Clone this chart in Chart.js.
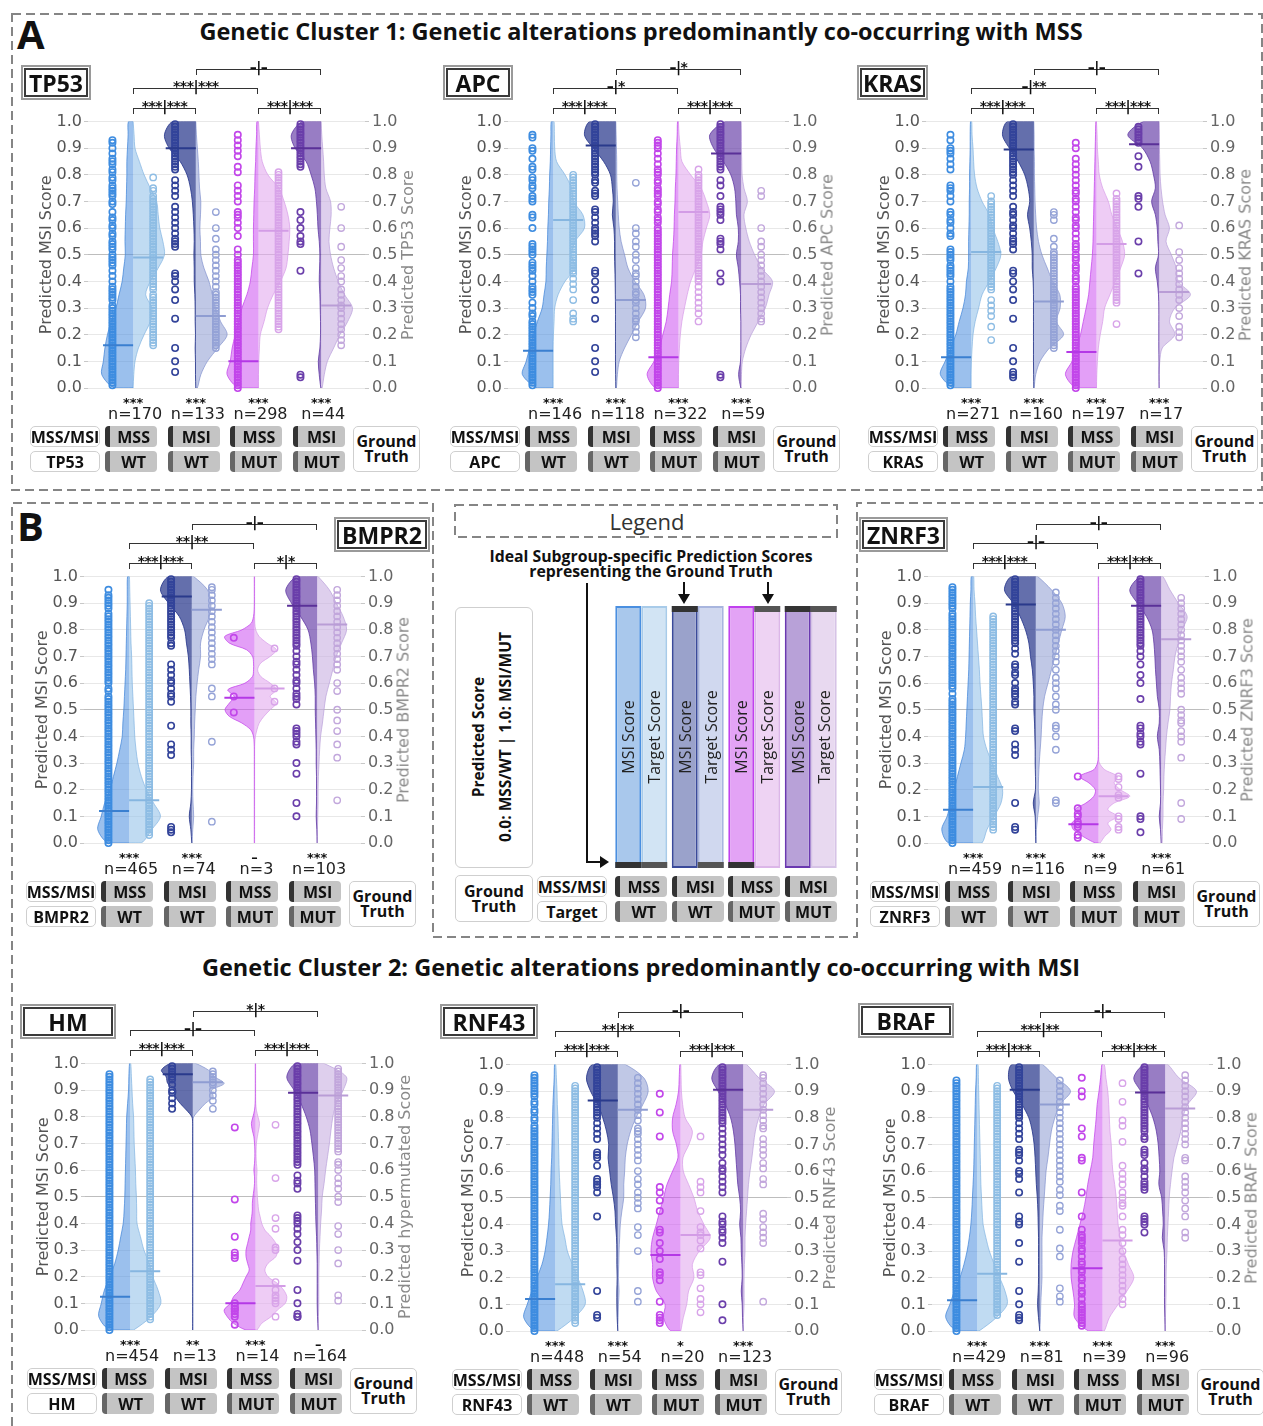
<!DOCTYPE html>
<html><head><meta charset="utf-8">
<script src="https://cdn.jsdelivr.net/npm/chart.js@4.4.1/dist/chart.umd.min.js"></script>
<style>
body{margin:0;width:1263px;height:1426px;position:relative;background:#fff;overflow:hidden;font-family:"Open Sans","Noto Sans",sans-serif;color:#111}
.abs{position:absolute}
.panel{position:absolute;width:440px;height:480px}
.panel canvas{position:absolute;left:0;top:50px}
.ttl{position:absolute;box-sizing:border-box;border:2px solid #3a3a3a;outline:2px solid #9a9a9a;outline-offset:1px;font-weight:700;font-size:23px;display:flex;align-items:center;justify-content:center;background:#fff;height:29px}
.lb{position:absolute;box-sizing:border-box;height:21px;border:1px solid #cfcfcf;border-radius:5px;background:#fff;font-weight:700;font-size:16px;display:flex;align-items:center;justify-content:center;white-space:nowrap}
.gb{position:absolute;box-sizing:border-box;height:21px;width:52px;background:#c4c4c4;border-radius:4px;font-weight:700;font-size:16px;display:flex;align-items:center;justify-content:center}
.gb.r1{border-left:5px solid #333}
.gb.r2{border-left:5px solid #666}
.gt{position:absolute;box-sizing:border-box;border:1px solid #cfcfcf;border-radius:5px;background:#fff;font-weight:700;font-size:16px;line-height:15px;display:flex;align-items:center;justify-content:center;text-align:center}
.nl{position:absolute;font-family:"DejaVu Sans";font-size:16px;line-height:16px;color:#222;transform:translateX(-50%);white-space:nowrap}
.st{position:absolute;font-family:"DejaVu Sans";font-weight:700;font-size:13px;line-height:13px;color:#111;transform:translateX(-50%);white-space:nowrap}
.br{position:absolute;box-sizing:border-box;border:1.5px solid #333;border-bottom:none;height:6px}
.brt{position:absolute;font-family:"DejaVu Sans";font-weight:700;font-size:14px;line-height:14px;color:#111;transform:translateX(-50%);white-space:nowrap;letter-spacing:-0.5px}
.rt{position:absolute;font-family:"DejaVu Sans";font-size:16px;color:#8a8a8a;white-space:nowrap;transform:translate(-50%,-50%) rotate(-90deg)}
.ctitle{position:absolute;left:0;width:1282px;text-align:center;font-weight:700;font-size:23.5px;line-height:32px;white-space:nowrap}
.big{position:absolute;font-weight:700;font-size:40px;line-height:40px}
.barlab{position:absolute;font-size:16px;color:#222;white-space:nowrap;transform:translate(-50%,-50%) rotate(-90deg)}
</style></head>
<body>
<svg class="abs" style="left:0;top:0" width="1263" height="1426">
 <g fill="none" stroke="#858585" stroke-width="2" stroke-dasharray="9,5">
  <rect x="12" y="14" width="1250" height="476"/>
  <polyline points="12,1426 12,503 433,503 433,937 857,937 857,503 1263,503"/>
  <rect x="455" y="505" width="382" height="32"/>
 </g>
 <g stroke="#111" stroke-width="2" fill="none">
  <polyline points="587,583 587,862 601,862"/>
  <line x1="684" y1="582" x2="684" y2="596"/>
  <line x1="768" y1="582" x2="768" y2="596"/>
 </g>
 <g fill="#111">
  <polygon points="600,856 609,862 600,868"/>
  <polygon points="678,594 690,594 684,604"/>
  <polygon points="762,594 774,594 768,604"/>
 </g>
</svg>
<div class="big" style="left:17px;top:14px">A</div>
<div class="big" style="left:17px;top:506px">B</div>
<div class="ctitle" style="top:15px">Genetic Cluster 1: Genetic alterations predominantly co-occurring with MSS</div>
<div class="ctitle" style="top:951px">Genetic Cluster 2: Genetic alterations predominantly co-occurring with MSI</div>
<div class="abs" style="left:455px;top:505px;width:384px;height:34px;text-align:center;font-size:22px;line-height:32px;color:#333">Legend</div>
<div class="abs" style="left:455px;top:549px;width:392px;text-align:center;font-weight:700;font-size:15.8px;line-height:14.5px">Ideal Subgroup-specific Prediction Scores<br>representing the Ground Truth</div>
<div class="abs" style="left:455px;top:607px;width:78px;height:261px;box-sizing:border-box;border:1px solid #cfcfcf;border-radius:6px"></div>
<div class="abs" style="left:492px;top:737px;transform:translate(-50%,-50%) rotate(-90deg);white-space:nowrap;font-weight:700;font-size:15.5px;line-height:27px;text-align:center">Predicted Score<br>0.0: MSS/WT | 1.0: MSI/MUT</div>
<div class="gt" style="left:455px;top:875px;width:78px;height:47px">Ground<br>Truth</div>
<div class="lb" style="left:537px;top:876px;width:70px">MSS/MSI</div>
<div class="lb" style="left:537px;top:901px;width:70px">Target</div>
<script>
// ---------------- shared data ----------------
const LV21=[0,.05,.1,.15,.2,.25,.3,.35,.4,.45,.5,.55,.6,.65,.7,.75,.8,.85,.9,.95,1];
const LV41=[0,.025,.05,.075,.1,.125,.15,.175,.2,.225,.25,.275,.3,.325,.35,.375,.4,.425,.45,.475,.5,.525,.55,.575,.6,.625,.65,.675,.7,.725,.75,.775,.8,.825,.85,.875,.9,.925,.95,.975,1];
const groupLabels=['MSS','MSI','MSS','MSI'];
const targetLabels=['WT','WT','MUT','MUT'];
// densities: half-violin width on 0..10 scale at LV21 (or LV41) score levels; points in score percent

// ---------------- TP53 ----------------
const tp53N=[170,133,298,44];
const tp53Stars=['***','***','***','***'];
const tp53Brackets=['***|***','***|***','***|***','–|–'];
const tp53MsiMed=[.16,.90,.10,.90];
const tp53TgtMed=[.49,.27,.59,.31];
const tp53MsiDens=[
[6,10,9.5,9,8.2,7,5.5,4.5,3.5,3,2.5,2.6,2.5,2.4,2.2,2.1,2,2,1.8,1.6,1.5],
[0,.1,.1,.2,.1,.2,.2,.3,.5,.5,.6,.5,.6,.8,1.1,1.7,2.8,5,8.5,10,7.4],
[6.3,10,9,8.4,7.4,6.3,5.3,3.7,2.6,2.1,1.6,1.6,1.6,1.5,1.4,1.2,1.1,.9,.8,.6,.5],
[.1,.6,.9,.4,.2,.2,.3,.4,.6,.5,.4,.6,1,1.2,1.5,2,3.2,4.8,8.3,9.5,6]];
const tp53TgtDens=[
[0,.2,.6,1.7,3.5,5.5,6,4,5.5,8,10,9.5,8.5,8,7.5,5.5,3.5,2,.6,.3,0],
[.5,1.6,3.7,7,10,7.9,6.3,5.3,4.2,2.6,1.6,1.5,1.3,1.5,1.6,1.2,1,.8,.5,.2,0],
[0,0,.1,.3,.6,1.8,2.9,4.7,7,8.8,9.4,9.8,10,9.4,8.2,6.5,3,1.2,.6,.3,0],
[.3,1,2,4,6,8.5,10,7.5,5.5,4,3,2.5,2.8,3.2,3,1.5,1,.8,.5,.2,0]];
const tp53MsiPts=[
[1,2,3,4,5,6,7,8,9,10,11,12,13,14,15,16,17,18,19,20,21,22,23,24,25,26,27,28,29,30,31,33,34,35,36,37,38,40,42,44,46,47,48,49,50,52,53,54,55,57,58,60,61,63,64,66,69,70,72,73,74,75,76,78,79,81,82,84,85,86,88,90,92,93],
[6,10,15,26,33,37,40,42,43,53,54,55,56,58,60,62,64,66,68,72,74,76,78,82,83,84,85,86,87,88,89,90,91,92,93,94,95,96,97,98,99],
[0,1,2,3,4,5,6,7,8,9,10,11,12,13,14,15,16,17,18,19,20,21,22,23,24,25,26,27,28,29,30,31,32,33,34,35,36,37,38,39,40,41,42,43,44,45,46,47,48,50,52,57,60,62,64,65,66,70,72,74,76,81,83,87,89,91,93,95],
[4,5,44,54,55,57,60,63,66,83,84,85,86,87,88,89,90,91,92,93,94,95,96,97,98,99]];
const tp53TgtPts=[
[16,17,18,19,20,21,22,23,24,25,26,27,28,29,30,31,32,33,34,35,37,38,39,40,41,42,43,44,45,46,47,48,49,50,51,52,53,54,55,56,57,58,59,60,61,62,63,64,65,66,67,68,69,70,71,72,74,75,79],
[15,16,17,18,19,20,21,22,23,24,25,26,27,28,29,30,31,32,33,34,35,36,38,40,42,44,46,48,50,52,56,60,66],
[22,23,24,25,26,27,28,29,30,31,32,33,34,35,36,37,38,39,40,41,42,43,44,45,46,47,48,49,50,51,52,53,54,55,56,57,58,59,60,61,62,63,64,65,66,67,68,69,70,71,72,73,74,75,76,77,78,79,80,81],
[16,18,20,22,24,26,28,30,31,33,35,37,40,42,45,48,53,60,68]];

// ---------------- APC ----------------
const apcN=[146,118,322,59];
const apcStars=['***','***','***','***'];
const apcBrackets=['***|***','***|***','–|*','–|*'];
const apcMsiMed=[.14,.91,.115,.88];
const apcTgtMed=[.63,.33,.66,.39];
const apcMsiDens=[
[5,9.8,8.6,7.5,6.3,5,3.5,2.9,2.3,2.2,2,1.8,1.7,1.5,1.4,1.2,1.1,.9,.8,.7,.6],
[0,.05,.1,.1,.1,.1,.1,.15,.2,.3,.4,.4,.6,1.1,.8,1.1,1.7,3.9,7.2,10,8.3],
[7.2,10,7.8,6.1,5,3.9,3.3,2.8,2.2,2,1.9,1.6,1.4,1.3,1.1,1,.8,.7,.6,.4,.3],
[.1,.8,.2,.1,.1,.1,.2,.2,.5,.9,1.5,.9,.9,1.5,1.7,2.1,3.3,5.7,8.8,10,5.1]];
const apcTgtDens=[
[0,0,0,0,.1,.3,.5,1.6,3.8,7,5.9,7,10,9.5,6.5,5.9,3.8,1.1,.5,.4,.3],
[.2,.5,1.1,2.8,5,7.2,9.5,9,6.1,3.9,2.8,1.7,1.1,.8,.6,.4,.3,.3,.2,.1,0],
[0,0,.1,.3,.6,1.1,1.9,2.8,3.9,5.6,7.2,7.8,8.9,10,8.9,7.2,3.9,1.1,.6,.2,0],
[0,.1,.4,1.5,3.2,5.5,7.7,8.9,10,6.5,4.3,2.6,1.5,.9,2,.9,.3,.2,.1,.1,0]];
const apcMsiPts=[
[1,2,3,4,5,6,7,8,9,10,11,12,13,14,15,16,17,18,19,20,21,22,23,24,25,27,28,30,32,35,36,37,38,40,42,44,45,46,47,50,51,52,53,54,60,64,65,70,71,72,75,76,78,79,82,83,86,89,90,94,95],
[6,10,15,26,33,37,40,43,44,55,57,58,59,60,62,64,66,67,72,73,74,77,78,80,81,82,83,84,85,86,87,88,89,90,91,92,93,94,95,96,97,98,99],
[0,1,2,3,4,5,6,7,8,9,10,11,12,13,14,15,16,17,18,19,20,21,22,23,24,25,26,27,28,29,30,31,32,33,34,35,36,37,38,39,40,41,42,43,44,45,46,47,48,49,50,51,52,53,54,55,56,57,58,59,60,62,63,64,66,67,69,70,72,73,74,75,77,78,80,81,82,84,86,88,90,91,92,93],
[4,5,40,43,52,54,55,56,63,65,66,67,68,72,76,78,82,83,84,85,86,87,88,89,90,91,92,93,94,95,96,97,98,99]];
const apcTgtPts=[
[25,26,28,33,37,39,41,43,44,45,46,47,48,49,50,51,52,53,54,55,56,57,58,59,60,61,62,63,64,65,66,67,68,69,70,71,72,73,74,75,76,77,78,79,80],
[19,21,23,25,26,28,30,32,33,35,36,38,40,42,43,45,48,50,53,55,58,60,77],
[25,28,30,32,34,36,38,40,41,42,43,44,45,46,47,48,49,50,51,52,53,54,55,56,57,58,59,60,61,62,63,64,65,66,67,68,69,70,71,72,73,74,75,76,77,78,79,80,82],
[25,26,28,30,32,34,36,38,40,42,44,46,48,50,53,55,60,72,74]];

// ---------------- KRAS ----------------
const krasN=[271,160,197,17];
const krasStars=['***','***','***','***'];
const krasBrackets=['***|***','***|***','–|**','–|–'];
const krasMsiMed=[.115,.895,.135,.915];
const krasTgtMed=[.51,.325,.54,.36];
const krasMsiDens=[
[5.5,9.8,8.3,6.5,4.9,3.8,2.6,1.8,1.5,.9,.8,.8,.7,.6,.6,.5,.5,.4,.3,.3,.2],
[0,.05,.1,.1,.1,.1,.1,.1,.2,.5,.5,.8,1.3,2,1.3,1.8,2.9,5,7.8,10,8.4],
[6.4,9.9,7.8,6.4,5.1,4.2,3.3,2.5,2.1,1.7,1.3,1.1,1,.9,.8,.7,.6,.5,.4,.3,.2],
[0,.05,.05,.1,.1,.1,.1,.2,.6,1.2,.2,.4,.6,1.2,2.4,1.2,1.8,2.9,5.3,10,5]];
const krasTgtDens=[
[0,0,.1,.3,.6,1.3,2.4,3.5,5.8,8,9.5,8.5,6.9,5.8,3.5,1.9,1.1,.8,.6,.3,.2],
[.1,.6,2,5,9.5,7.2,8.4,8.3,6,4.3,2.6,1.5,.9,.6,.4,.3,.2,.2,.1,.1,0],
[0,.1,.3,.6,1.2,2,2.6,4.3,6,7.7,9,8.3,6.6,4.9,3.8,2,.9,.6,.3,.2,0],
[0,0,.2,1,5,3.3,5,10,6.1,5.5,3.9,2.2,3.3,1.9,1.1,.6,.3,.2,.1,.1,0]];
const krasMsiPts=[
[1,2,3,4,5,6,7,8,9,10,11,12,13,14,15,16,17,18,19,20,21,22,23,24,25,26,27,28,29,30,31,32,33,34,35,36,37,38,40,42,43,44,45,46,48,49,50,51,52,57,58,60,62,63,65,66,70,72,74,75,76,82,84,86,88,89,90,93,95],
[4,5,6,10,15,26,33,37,40,43,44,52,54,55,56,58,60,61,63,65,66,68,72,74,76,78,80,81,82,83,84,85,86,87,88,89,90,91,92,93,94,95,96,97,98,99],
[0,1,2,3,4,5,6,7,8,9,10,11,12,13,14,15,16,17,18,19,20,21,22,23,24,25,26,27,28,29,30,31,32,33,34,35,36,37,38,40,41,42,44,45,46,48,49,50,52,53,54,56,58,60,61,63,64,66,68,70,71,73,74,76,78,80,82,84,86,90,92],
[43,55,68,71,72,83,87,92,93,94,95,96,97,98]];
const krasTgtPts=[
[18,23,27,29,31,33,37,38,39,40,41,42,43,44,45,46,47,48,49,50,51,52,53,54,55,56,57,58,59,60,61,62,63,64,65,66,67,68,69,70,72],
[15,16,17,18,19,20,21,22,23,24,25,26,27,28,29,30,31,32,33,34,35,36,37,38,39,40,41,42,43,44,45,46,47,48,49,50,51,53,56,63,65,66],
[24,32,33,34,35,36,37,38,39,40,41,42,43,44,45,46,47,48,49,50,51,52,53,54,55,56,57,58,59,60,61,62,63,64,65,66,67,68,69,70,71,73],
[19,21,23,27,30,33,35,37,39,41,43,45,48,51,61]];

// ---------------- BMPR2 ----------------
const bmpr2N=[465,74,3,103];
const bmpr2Stars=['***','***','–','***'];
const bmpr2Brackets=['***|***','*|*','**|**','–|–'];
const bmpr2MsiMed=[.12,.925,.545,.89];
const bmpr2TgtMed=[.16,.875,.58,.82];
const bmpr2MsiDens=[
[6.7,10,8.9,7.8,6.1,5,3.9,3,2.2,2,1.7,1.5,1.3,1.1,1,.9,.8,.7,.6,.6,.5],
[0,.3,.8,.3,.1,.1,.1,.2,.2,.3,.3,.4,.6,.8,1.1,1.7,2.3,4,7.4,10,7.4],
[.05,.05,.05,.05,.05,.05,.05,.05,.05,.05,.05,.05,.05,.05,.05,.1,.3,1.2,4,8,9.4,8,6.5,8.5,3,.6,.3,.3,.6,2.5,8,9.5,4,1,.3,.1,.05,.05,.05,.05,.05],
[0,.1,.3,.2,.2,.2,.3,.3,.4,.5,.6,.6,.8,1.2,1.5,2,2.9,5.3,8.2,10,6.5]];
const bmpr2TgtDens=[
[3.9,7.2,10,7.8,5.5,3.9,2.8,2.2,1.8,1.6,1.4,1.2,1,.9,.8,.6,.5,.4,.3,.2,.1],
[.1,.3,.6,.4,.3,.4,.6,.6,.8,.9,1.1,1.3,1.7,2.2,2.8,2.8,3.9,5.6,6.1,5,.6],
[.05,.05,.05,.05,.05,.05,.05,.05,.05,.05,.05,.05,.05,.05,.05,.1,.3,.8,1.5,3,5,7,5,7,5,2,1,2,5,7,4,1.5,.4,.1,.05,.05,.05,.05,.05,.05,.05],
[0,.1,.2,.3,.3,.4,.6,.8,1.1,1.7,2.2,2.8,3.9,5,6.1,7.8,9.4,8.3,6.1,3.9,.3]];
const bmpr2MsiPts=[
[0,1,2,3,4,5,6,7,8,9,10,11,12,13,14,15,16,17,18,19,20,21,22,23,24,25,26,27,28,29,30,31,32,33,34,35,36,37,38,39,40,41,42,43,44,45,46,47,48,49,50,51,52,53,54,55,57,58,60,61,62,63,64,65,66,67,68,69,70,71,72,73,74,75,76,77,78,79,80,81,82,83,84,85,86,88,89,90,91,92,93,95],
[4,5,6,33,35,37,44,53,55,56,58,60,61,63,65,67,74,75,77,78,79,80,81,82,83,84,85,86,87,88,89,90,91,92,93,94,95,96,97,98,99],
[49,55,77],
[10,15,26,30,37,38,40,41,42,43,52,54,55,56,58,60,61,63,65,67,68,70,72,74,75,76,77,78,79,80,81,82,83,84,85,86,87,88,89,90,91,92,93,94,95,96,97,98,99]];
const bmpr2TgtPts=[
[3,4,5,6,7,8,9,10,11,12,13,14,15,16,17,18,19,20,21,22,23,24,25,26,27,28,29,30,31,32,33,34,35,36,37,38,39,40,41,42,43,44,45,46,47,48,49,50,51,52,53,54,55,56,57,58,59,60,61,62,63,64,65,66,67,68,69,70,71,72,73,74,75,76,77,78,79,80,81,82,83,84,85,86,87,88,89,90],
[8,38,55,58,67,69,71,73,75,77,79,81,83,85,87,89,91,93,95,96],
[53,58,73],
[16,32,37,42,46,50,57,60,65,67,69,71,73,75,77,79,81,83,85,87,89,91,93,95]];

// ---------------- ZNRF3 ----------------
const znrf3N=[459,116,9,61];
const znrf3Stars=['***','***','**','***'];
const znrf3Brackets=['***|***','***|***','–|–','–|–'];
const znrf3MsiMed=[.125,.895,.07,.89];
const znrf3TgtMed=[.21,.80,.175,.765];
const znrf3MsiDens=[
[7.8,10,8.3,7.2,6.1,5,3.9,2.8,2.4,2.2,2,1.8,1.6,1.4,1.3,1.2,1.1,1,.9,.7,.6],
[0,.1,.2,.8,.1,.1,.2,.2,.3,.4,.6,.6,.8,1.1,1.7,2.2,3.3,5,7.2,10,7.8],
[1,5,8,8.5,6,7.5,4,1.5,1,3,6,1.5,.3,.05,.05,.05,.05,.05,.05,.05,.05,.05,.05,.05,.05,.05,.05,.05,.05,.05,.05,.05,.05,.05,.05,.05,.05,.05,.05,.05,.05],
[0,.2,.6,.2,.2,.3,.4,.6,1.2,.6,.6,1.2,1.5,1.8,2,2.3,2.9,4.7,7.6,10,6.5]];
const znrf3TgtDens=[
[2.8,4.4,6.7,8.9,9.4,7.8,6.1,4.4,3.3,3,2.8,2.5,2.2,2,1.7,1.4,1.1,.8,.6,.3,.2],
[.1,.2,.6,1.1,.8,.9,1.1,1.4,1.7,1.9,2.2,2.8,3.9,5,6.1,7.2,8.3,9.4,8.3,5,.6],
[.5,2,4,3,6,3,5,10,7,5,6,2,.3,.05,.05,.05,.05,.05,.05,.05,.05,.05,.05,.05,.05,.05,.05,.05,.05,.05,.05,.05,.05,.05,.05,.05,.05,.05,.05,.05,.05],
[.3,.4,.6,.6,.8,.9,1.1,1.4,1.7,2.2,2.8,3,3.3,3.9,4.4,5.5,6.7,8.3,5.5,2.8,.6]];
const znrf3MsiPts=[
[0,1,2,3,4,5,6,7,8,9,10,11,12,13,14,15,16,17,18,19,20,21,22,23,24,25,26,27,28,29,30,31,32,33,34,35,36,37,38,39,40,41,42,43,44,45,46,47,48,49,50,51,52,53,54,56,58,59,60,61,62,63,64,65,66,67,68,69,70,71,72,73,74,75,76,77,78,79,80,81,82,83,84,85,86,88,89,90,91,92,93,94,95,96],
[5,6,15,33,35,37,42,43,52,53,55,56,57,58,60,63,64,66,67,71,73,75,76,77,78,79,80,81,82,83,84,85,86,87,88,89,90,91,92,93,94,95,96,97,98,99],
[2,3,6,7,8,10,11,13,25],
[4,9,10,26,37,38,40,41,43,44,54,60,63,67,70,72,74,75,76,77,78,79,80,81,82,83,84,85,86,87,88,89,90,91,92,93,94,95,96,97,98,99]];
const znrf3TgtPts=[
[5,6,7,8,9,10,11,12,13,14,15,16,17,18,19,20,21,22,23,24,25,26,27,28,29,30,31,32,33,34,35,36,37,38,39,40,41,42,43,44,45,46,47,48,49,50,51,52,53,54,55,56,57,58,59,60,61,62,63,64,65,66,67,68,69,70,71,72,73,74,75,76,77,78,79,80,81,82,83,84,85],
[15,16,35,40,43,44,50,52,55,58,60,62,65,68,70,72,74,76,78,80,82,84,86,88,90,92,94],
[5,6,9,10,17,18,21,24,25],
[9,15,32,38,40,42,45,46,48,50,56,58,60,62,65,68,70,72,74,76,78,80,82,84,86,88,90,92]];

// ---------------- HM ----------------
const hmN=[454,13,14,164];
const hmStars=['***','**','***','–'];
const hmBrackets=['***|***','***|***','–|–','*|*'];
const hmMsiMed=[.125,.96,.10,.89];
const hmTgtMed=[.22,.93,.165,.88];
const hmMsiDens=[
[6.5,10,9.2,8.2,6.5,4.9,3.8,3,2.2,1.9,1.7,1.6,1.5,1.4,1.3,1.2,1.1,.8,.5,.4,.2],
[.05,.05,.05,.05,.05,.05,.05,.05,.05,.05,.05,.05,.05,.05,.05,.05,.05,.05,.05,.05,.05,.05,.05,.05,.05,.05,.05,.05,.05,.05,.05,.05,.3,2,4,5.5,5.5,8,8.5,10,7],
[3,7,9,10,8,7,5,4,3,2,2.5,3,3,2.5,2,1.5,1.5,1.2,1,1,.8,.5,.3,.3,.5,.3,.2,.2,.3,.5,1,1.3,.8,.3,.1,.05,.05,.05,.05,.05,.05],
[0,.2,.3,.3,.3,.3,.4,.5,.7,.8,.9,1,1.1,1.5,2,2.6,3.8,5.5,7.7,10,7.2]];
const hmTgtDens=[
[1.1,6.7,9.8,8.9,7.2,6.1,4.4,3.3,2.2,2.1,2,1.8,1.7,1.5,1.3,1.2,1.1,.8,.6,.4,.2],
[.05,.05,.05,.05,.05,.05,.05,.05,.05,.05,.05,.05,.05,.05,.05,.05,.05,.05,.05,.05,.05,.05,.05,.05,.05,.05,.05,.05,.05,.05,.05,.05,.3,2,4,6.5,6,10,7,5,1],
[.5,2,5,7,9.5,10,9,7,4,3,4,6.5,7,6.5,5,3,2,1.5,1,.8,.6,.5,.4,.4,.5,.3,.2,.2,.3,.6,1,1.3,.8,.3,.1,.05,.05,.05,.05,.05,.05],
[0,.1,.2,.2,.2,.3,.4,.6,.8,1.1,1.3,1.9,2.4,3,3.6,4.1,4.7,5.8,8,9,1.9]];
const hmMsiPts=[
[0,1,2,3,4,5,6,7,8,9,10,11,12,13,14,15,16,17,18,19,20,21,22,23,24,25,26,27,28,29,30,31,32,33,34,35,36,37,38,39,40,41,42,43,44,45,46,47,48,49,50,51,52,53,54,55,56,57,58,59,60,61,62,63,64,65,66,67,68,69,70,71,72,73,74,75,76,77,78,79,80,81,82,83,84,85,86,87,88,89,90,91,92,93,94,95,96],
[83,85,87,89,90,92,94,95,96,97,98,99],
[2,5,6,7,8,8,9,10,27,28,29,35,49,76],
[5,5,6,10,15,26,30,33,36,38,40,41,42,43,53,55,56,58,62,63,64,65,66,67,68,69,70,71,72,73,74,75,76,77,78,79,80,81,82,83,84,85,86,87,88,89,90,91,92,93,94,95,96,97,98,99]];
const hmTgtPts=[
[4,5,6,7,8,9,10,11,12,13,14,15,16,17,18,19,20,21,22,23,24,25,26,27,28,29,30,31,32,33,34,35,36,37,38,39,40,41,42,43,44,45,46,47,48,49,50,51,52,53,54,55,56,57,58,59,60,61,62,63,64,65,66,67,68,69,70,71,72,73,74,75,76,77,78,79,80,81,82,83,84,85,86,87,88,89,90,91,92,93,94],
[83,86,88,90,92,93,94,95,96,97],
[5,10,11,12,13,15,18,30,31,38,42,57,77],
[11,13,25,30,36,39,48,50,53,55,57,60,62,63,67,68,69,70,71,72,73,74,75,76,77,78,79,80,81,82,83,84,85,86,87,88,89,90,91,92,93,94,95,96,97,98]];

// ---------------- RNF43 ----------------
const rnf43N=[448,54,20,123];
const rnf43Stars=['***','***','*','***'];
const rnf43Brackets=['***|***','***|***','**|**','–|–'];
const rnf43MsiMed=[.12,.865,.285,.905];
const rnf43TgtMed=[.175,.83,.36,.83];
const rnf43MsiDens=[
[6.3,10,8.9,7.4,5.8,4.2,3.2,2.6,2.1,1.8,1.6,1.4,1.3,1.1,1,.9,.8,.7,.5,.3,.2],
[0,.2,.3,.3,.2,.3,.3,.4,.7,.9,1.4,2.1,2.6,3.1,2.9,3.6,4.8,6.4,8.7,10,8.1],
[3.1,5.4,4.9,7.7,8.9,8.9,9.4,8.9,7.7,6.6,5.4,4.3,2.5,.8,1.3,2.5,2.5,1.4,.6,.4,.2],
[0,.2,.3,.6,.3,.4,.6,.7,1.1,.8,1.1,1.7,2,2.3,2.6,3.1,4,5.7,8,10,7.5]];
const rnf43TgtDens=[
[.6,6.1,9.6,8.9,7.2,5.5,3.9,3.1,2.2,1.9,1.7,1.5,1.3,1.2,1.1,1,.9,.7,.6,.4,.2],
[0,.1,.2,.4,.2,.3,.4,.6,.8,1.3,1.9,1.9,2.2,2.4,3,4.1,5.8,8,9.7,8.3,2.4],
[.1,.9,2,2.6,4.3,3.8,6,9.5,7.5,5.5,4.3,2.6,.9,.8,2.7,3.8,1.5,.7,.3,.2,.1],
[0,.1,.3,.3,.3,.4,.6,.6,.8,1.1,1.4,1.7,2.2,2.8,3.3,3.9,5,6.7,10,5,1.1]];
const rnf43MsiPts=[
[0,1,2,3,4,5,6,7,8,9,10,11,12,13,14,15,16,17,18,19,20,21,22,23,24,25,26,27,28,29,30,31,32,33,34,35,36,37,38,39,40,41,42,43,44,45,46,47,48,49,50,51,52,53,54,55,56,57,58,59,60,61,62,63,64,65,66,67,68,69,70,71,72,73,74,75,76,77,79,80,82,83,85,86,88,89,90,91,92,93,94,95,96],
[5,6,15,43,52,54,55,56,57,62,65,66,67,72,74,76,78,80,81,82,83,84,85,86,87,88,89,90,91,92,93,94,95,96,97,98,99],
[3,4,5,6,11,19,21,22,27,30,33,37,38,45,49,52,54,73,82,89],
[4,10,26,33,35,37,38,40,41,43,52,54,56,58,60,61,63,66,68,70,72,74,76,78,79,80,81,82,83,84,85,86,87,88,89,90,91,92,93,94,95,96,97,98,99]];
const rnf43TgtPts=[
[3,4,5,6,7,8,9,10,11,12,13,14,15,16,17,18,19,20,21,22,23,24,25,26,27,28,29,30,31,32,33,34,35,36,37,38,39,40,41,42,43,44,45,46,47,48,49,50,51,52,53,54,55,56,57,58,59,60,61,62,63,64,65,66,67,68,69,70,71,72,73,74,75,76,77,78,79,80,81,82,83,84,85,86,87,88,89,90,91,92],
[11,15,30,36,39,46,48,50,52,55,57,60,64,66,68,70,72,74,75,76,79,81,83,85,87,89,91,93,95],
[7,10,12,16,21,22,31,34,36,37,39,45,52,54,56,73],
[11,33,35,37,39,42,44,55,57,61,63,66,68,70,72,76,77,79,81,83,85,87,89,91,93,95,96]];

// ---------------- BRAF ----------------
const brafN=[429,81,39,96];
const brafStars=['***','***','***','***'];
const brafBrackets=['***|***','***|***','***|**','–|–'];
const brafMsiMed=[.115,.905,.235,.895];
const brafTgtMed=[.215,.85,.34,.835];
const brafMsiDens=[
[6.5,10,8.7,7.2,5.5,4.2,3.2,2.5,2,1.7,1.5,1.3,1.1,1,.9,.8,.7,.6,.5,.3,.2],
[0,.4,.7,.5,.4,.4,.4,.4,.5,.6,.8,1.1,1.3,1.5,1.8,2.4,3.5,5.7,8.5,10,8.9],
[4.4,8.9,8.9,9.4,10,10,9.4,8.3,7.2,6.1,5.3,4.7,3.9,3.1,2.8,2.4,2,1.7,1.1,.6,.2],
[0,.1,.2,.2,.2,.2,.3,.9,.6,.8,1.1,2,1.7,1.9,2.2,2.8,3.9,5.6,7.8,10,6.7]];
const brafTgtDens=[
[.6,6.1,9.6,8.9,7.2,5.5,3.9,2.8,1.9,1.6,1.4,1.2,1.1,1,.9,.8,.7,.6,.5,.4,.3],
[0,.2,.3,.5,.7,.7,.7,.7,.9,1.1,1.4,1.7,2,2.6,3.1,3.7,4.8,6.4,9.8,5.3,.9],
[.6,2.2,5,7.8,10,8.3,6.7,5.6,5,4.7,4.4,3.9,3.3,3,2.8,2.4,2.2,2,1.7,1.1,.6],
[0,.1,.2,.3,.3,.4,.6,.7,.9,1.1,1.3,1.7,2.2,2.8,3.9,5,5.6,7.2,10,4.4,.9]];
const brafMsiPts=[
[0,1,2,3,4,5,6,7,8,9,10,11,12,13,14,15,16,17,18,19,20,21,22,23,24,25,26,27,28,29,30,31,32,33,34,35,36,37,38,39,40,41,42,43,44,45,46,47,48,49,50,51,52,53,54,55,56,57,58,59,60,61,62,63,64,65,66,67,68,69,70,71,72,73,74,75,76,77,78,79,80,81,82,83,84,85,86,87,88,89,90,91,92,93,94],
[4,5,6,10,15,26,33,40,41,43,52,57,59,60,64,66,67,68,72,74,76,78,80,81,82,83,84,85,86,87,88,89,90,91,92,93,94,95,96,97,98,99],
[2,3,4,5,6,7,8,9,10,12,14,15,17,19,20,22,23,25,26,28,30,31,33,34,35,36,38,43,52,64,65,73,76,88,90,95],
[37,40,41,42,43,53,54,55,56,58,60,61,63,66,67,68,72,73,75,76,77,78,79,80,81,82,83,84,85,86,87,88,89,90,91,92,93,94,95,96,97,98,99]];
const brafTgtPts=[
[6,7,8,9,10,11,12,13,14,15,16,17,18,19,20,21,22,23,24,25,26,27,28,29,30,31,32,33,34,35,36,37,38,39,40,41,42,43,44,45,46,47,48,49,50,51,52,53,54,55,56,57,58,59,60,61,62,63,64,65,66,67,68,69,70,71,72,73,74,75,76,77,78,79,80,81,82,83,84,85,86,87,88,89,90,91,92],
[11,13,16,28,31,38,45,47,51,53,56,58,60,62,64,66,68,70,72,74,76,78,80,82,84,86,88,90,92,94],
[10,12,15,17,19,21,23,25,27,30,33,36,38,43,47,48,50,52,55,57,59,62,71,77,79,86,93],
[35,37,43,46,49,52,54,56,58,64,65,70,72,74,76,78,80,82,84,86,88,90,92,94,96]];

// ---------------- legend schematic ----------------
const legendGroups=['MSS WT','MSI WT','MSS MUT','MSI MUT'];
const legendScoreRange=[[0,1],[0,1],[0,1],[0,1]];
const legendIdealMsi=[0,1,0,1];
const legendIdealTarget=[0,0,1,1];

// ---------------- styles ----------------
const msiFill=['rgba(72,140,222,0.55)','rgba(40,55,140,0.72)','rgba(204,80,240,0.55)','rgba(98,58,165,0.66)'];
const msiEdge=['rgba(60,130,215,0.7)','rgba(40,55,140,0.85)','rgba(195,70,235,0.75)','rgba(98,58,165,0.8)'];
const tgtFill=['rgba(150,195,233,0.6)','rgba(150,163,214,0.6)','rgba(226,170,238,0.6)','rgba(200,175,225,0.6)'];
const tgtEdge=['rgba(130,180,225,0.7)','rgba(130,145,205,0.7)','rgba(215,155,232,0.7)','rgba(185,160,218,0.7)'];
const msiPtC=['#3d8ce0','#33449a','#c246ea','#6a3eaa'];
const tgtPtC=['#8ebde4','#95a3d7','#d8a4e9','#c2a7dc'];
const msiMedC=['#3a7fd0','#2a3a8c','#b438e6','#5a3098'];
const tgtMedC=['#86b6e0','#8f9dd2','#d39ce6','#b99dd6'];
const PT_OFF_MSI=0.33, PT_OFF_TGT=0.32, HALF_W=0.5, MED_LEN=0.48;

const panels=[
 {gene:'TP53',rt:'Predicted TP53 Score',ox:0,oy:0,tx:24,ty:68,tw:64,n:tp53N,st:tp53Stars,br:tp53Brackets,mM:tp53MsiMed,tM:tp53TgtMed,mD:tp53MsiDens,tD:tp53TgtDens,mP:tp53MsiPts,tP:tp53TgtPts},
 {gene:'APC',rt:'Predicted APC Score',ox:420,oy:0,tx:26,ty:68,tw:64,n:apcN,st:apcStars,br:apcBrackets,mM:apcMsiMed,tM:apcTgtMed,mD:apcMsiDens,tD:apcTgtDens,mP:apcMsiPts,tP:apcTgtPts},
 {gene:'KRAS',rt:'Predicted KRAS Score',ox:838,oy:0,tx:22,ty:68,tw:65,n:krasN,st:krasStars,br:krasBrackets,mM:krasMsiMed,tM:krasTgtMed,mD:krasMsiDens,tD:krasTgtDens,mP:krasMsiPts,tP:krasTgtPts},
 {gene:'BMPR2',rt:'Predicted BMPR2 Score',ox:-4,oy:455,tx:341,ty:65,tw:90,n:bmpr2N,st:bmpr2Stars,br:bmpr2Brackets,mM:bmpr2MsiMed,tM:bmpr2TgtMed,mD:bmpr2MsiDens,tD:bmpr2TgtDens,mP:bmpr2MsiPts,tP:bmpr2TgtPts},
 {gene:'ZNRF3',rt:'Predicted ZNRF3 Score',ox:840,oy:455,tx:22,ty:65,tw:83,n:znrf3N,st:znrf3Stars,br:znrf3Brackets,mM:znrf3MsiMed,tM:znrf3TgtMed,mD:znrf3MsiDens,tD:znrf3TgtDens,mP:znrf3MsiPts,tP:znrf3TgtPts},
 {gene:'HM',rt:'Predicted hypermutated Score',ox:-3,oy:942,tx:26,ty:65,tw:90,n:hmN,st:hmStars,br:hmBrackets,mM:hmMsiMed,tM:hmTgtMed,mD:hmMsiDens,tD:hmTgtDens,mP:hmMsiPts,tP:hmTgtPts},
 {gene:'RNF43',rt:'Predicted RNF43 Score',ox:422,oy:943,tx:21,ty:64,tw:92,n:rnf43N,st:rnf43Stars,br:rnf43Brackets,mM:rnf43MsiMed,tM:rnf43TgtMed,mD:rnf43MsiDens,tD:rnf43TgtDens,mP:rnf43MsiPts,tP:rnf43TgtPts},
 {gene:'BRAF',rt:'Predicted BRAF Score',ox:844,oy:943,tx:17,ty:63,tw:90,n:brafN,st:brafStars,br:brafBrackets,mM:brafMsiMed,tM:brafTgtMed,mD:brafMsiDens,tD:brafTgtDens,mP:brafMsiPts,tP:brafTgtPts}
];

Chart.defaults.font.family='DejaVu Sans';

function mk(cls,parent,css,html){const d=document.createElement('div');if(cls)d.className=cls;Object.assign(d.style,css||{});if(html!==undefined)d.innerHTML=html;parent.appendChild(d);return d;}
function px(v){return v+'px';}

function halfViolin(center,side,dens){
  const lv=dens.length===41?LV41:LV21;
  const pts=[{x:center,y:lv[0]}];
  for(let i=0;i<lv.length;i++) pts.push({x:center+side*dens[i]/10*HALF_W,y:lv[i]});
  pts.push({x:center,y:lv[lv.length-1]});
  return pts;
}

function buildPanel(p){
  const el=mk('panel',document.body,{left:px(p.ox),top:px(p.oy)});
  const cv=document.createElement('canvas');cv.width=430;cv.height=380;el.appendChild(cv);
  const ds=[];
  for(let g=0;g<4;g++){
    ds.push({data:halfViolin(g,-1,p.mD[g]),showLine:true,fill:'shape',tension:0.3,pointRadius:0,borderWidth:1,borderColor:msiEdge[g],backgroundColor:msiFill[g],order:3});
    ds.push({data:halfViolin(g,1,p.tD[g]),showLine:true,fill:'shape',tension:0.3,pointRadius:0,borderWidth:1,borderColor:tgtEdge[g],backgroundColor:tgtFill[g],order:3});
    ds.push({data:p.mP[g].map(v=>({x:g-PT_OFF_MSI,y:v/100})),pointRadius:3.2,pointBorderWidth:1.6,pointBackgroundColor:'rgba(255,255,255,0)',pointBorderColor:msiPtC[g],order:2,clip:false});
    ds.push({data:p.tP[g].map(v=>({x:g+PT_OFF_TGT,y:v/100})),pointRadius:3.2,pointBorderWidth:1.4,pointBackgroundColor:'rgba(255,255,255,0)',pointBorderColor:tgtPtC[g],order:2,clip:false});
    ds.push({data:[{x:g-MED_LEN,y:p.mM[g]},{x:g,y:p.mM[g]}],showLine:true,pointRadius:0,borderWidth:2,borderColor:msiMedC[g],order:1});
    ds.push({data:[{x:g,y:p.tM[g]},{x:g+MED_LEN,y:p.tM[g]}],showLine:true,pointRadius:0,borderWidth:2,borderColor:tgtMedC[g],order:1});
  }
  const tickFont={family:'DejaVu Sans',size:16};
  const chart=new Chart(cv,{type:'scatter',data:{datasets:ds},options:{
    responsive:false,animation:false,events:[],
    layout:{padding:{left:33,right:9,top:71.5,bottom:42}},
    plugins:{legend:{display:false},tooltip:{enabled:false}},
    scales:{
      x:{type:'linear',min:-0.72,max:3.70,display:false},
      y:{position:'left',min:0,max:1,afterFit:s=>{s.width=55;},
         ticks:{stepSize:0.1,font:tickFont,color:'#555',padding:2,callback:v=>Number(v).toFixed(1)},
         grid:{color:c=>(c.tick&&Math.abs(c.tick.value-0.5)<1e-6)?'#bdbdbd':'#e8e8e8',tickLength:4,tickColor:'#c8c8c8'},
         border:{display:false},
         title:{display:true,text:'Predicted MSI Score',font:{family:'DejaVu Sans',size:16},color:'#555',padding:{top:4,bottom:4}}},
      y2:{position:'right',min:0,max:1,afterFit:s=>{s.width=56;},
         ticks:{stepSize:0.1,font:tickFont,color:'#666',padding:3,callback:v=>Number(v).toFixed(1)},
         grid:{drawOnChartArea:false,tickLength:4,tickColor:'#c8c8c8'},border:{display:false}}
    }}});
  const xs=[0,1,2,3].map(i=>chart.scales.x.getPixelForValue(i));
  const yMid=50+(chart.chartArea.top+chart.chartArea.bottom)/2;
  mk('rt',el,{left:px(407),top:px(yMid)},p.rt);
  mk('ttl',el,{left:px(p.tx),top:px(p.ty),width:px(p.tw)},p.gene);
  // brackets: (0,1),(2,3),(0,2),(1,3)
  const pairs=[[0,1,108],[2,3,108],[0,2,88],[1,3,69]];
  pairs.forEach((q,k)=>{
    const a=xs[q[0]],b=xs[q[1]];
    mk('br',el,{left:px(a),top:px(q[2]),width:px(b-a)});
    mk('brt',el,{left:px((a+b)/2),top:px(q[2]-9)},p.br[k]);
  });
  for(let g=0;g<4;g++){
    mk('st',el,{left:px(xs[g]),top:px(396)},p.st[g]);
    mk('nl',el,{left:px(xs[g]+2),top:px(406)},'n='+p.n[g]);
    mk('gb r1',el,{left:px(xs[g]-28),top:px(426)},groupLabels[g]);
    mk('gb r2',el,{left:px(xs[g]-28),top:px(451)},targetLabels[g]);
  }
  mk('lb',el,{left:px(30),top:px(426),width:px(70)},'MSS/MSI');
  mk('lb',el,{left:px(30),top:px(451),width:px(70)},p.gene);
  mk('gt',el,{left:px(353),top:px(426),width:px(67),height:px(46)},'Ground<br>Truth');
}
panels.forEach(buildPanel);

// legend schematic chart
(function(){
  const cv=document.createElement('canvas');cv.width=250;cv.height=280;
  Object.assign(cv.style,{position:'absolute',left:'600px',top:'596px'});
  document.body.appendChild(cv);
  const msiBarFill=['#a9c8ec','#9aa2cb','#e3a3f5','#b8a1d8'];
  const msiBarEdge=['#4a8fe0','#3a4a9a','#c040ee','#6a38b0'];
  const tgtBarFill=['#d2e4f4','#d0d8ef','#eed3f3','#e8d9f0'];
  const tgtBarEdge=['#a8cbe9','#a8b5de','#dcb6e8','#d6c3e6'];
  const capPlugin={id:'caps',afterDatasetsDraw(ch){
    const ctx=ch.ctx;
    [[0,legendIdealMsi,'#333'],[1,legendIdealTarget,'#555']].forEach(([di,ideal,col])=>{
      ch.getDatasetMeta(di).data.forEach((bar,i)=>{
        const w=bar.width,x=bar.x-w/2;
        const yv=ch.scales.y.getPixelForValue(ideal[i]);
        ctx.fillStyle=col;
        if(ideal[i]>=1) ctx.fillRect(x,yv,w,6); else ctx.fillRect(x,yv-6,w,6);
      });
    });
  }};
  const ch=new Chart(cv,{type:'bar',data:{labels:legendGroups,datasets:[
    {label:'MSI Score',data:legendScoreRange,backgroundColor:msiBarFill,borderColor:msiBarEdge,borderWidth:2,borderSkipped:false},
    {label:'Target Score',data:legendScoreRange,backgroundColor:tgtBarFill,borderColor:tgtBarEdge,borderWidth:2,borderSkipped:false}]},
    options:{responsive:false,animation:false,events:[],
      layout:{padding:{left:13,right:11,top:10,bottom:8}},
      datasets:{bar:{categoryPercentage:0.92,barPercentage:1}},
      plugins:{legend:{display:false},tooltip:{enabled:false}},
      scales:{x:{display:false},y:{display:false,min:0,max:1}}},
    plugins:[capPlugin]});
  const yMid=596+(ch.chartArea.top+ch.chartArea.bottom)/2;
  ['MSI Score','Target Score'].forEach((t,di)=>{
    ch.getDatasetMeta(di).data.forEach(bar=>{
      mk('barlab',document.body,{left:px(600+bar.x),top:px(yMid)},t);
    });
  });
  for(let g=0;g<4;g++){
    const cx=600+ch.scales.x.getPixelForValue(g);
    mk('gb r1',document.body,{left:px(cx-26),top:px(876)},groupLabels[g]);
    mk('gb r2',document.body,{left:px(cx-26),top:px(901)},targetLabels[g]);
  }
})();
</script>
</body></html>
